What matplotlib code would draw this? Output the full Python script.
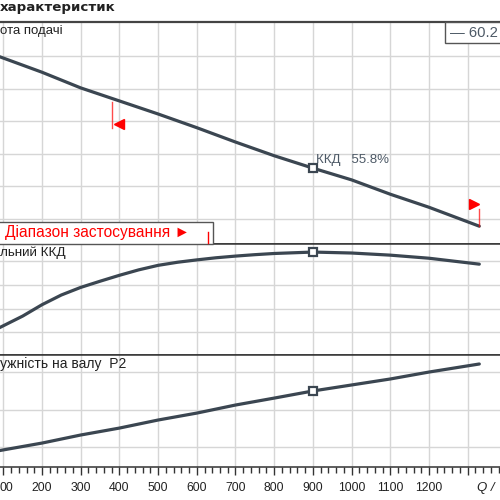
import matplotlib
matplotlib.use('Agg')
import matplotlib.pyplot as plt
from matplotlib.patches import Rectangle
from matplotlib.lines import Line2D
from matplotlib.ticker import MultipleLocator

# --- дані ---
Q_H = [85, 200, 300, 400, 500, 600, 700, 800, 900, 1000, 1100, 1200, 1330]
H = [30.0, 27.5, 25.1, 23.1, 21.1, 19.0, 16.8, 14.7, 12.8, 11.0, 8.8, 6.8, 3.9]

Q_ETA = [85, 150, 200, 250, 300, 350, 400, 450, 500, 550, 600, 650, 700, 750, 800,
         900, 1000, 1100, 1200, 1330]
ETA = [23.5, 28.8, 33.6, 37.7, 40.9, 43.5, 46.0, 48.3, 50.2, 51.5, 52.5, 53.4, 54.1, 54.7, 55.2,
       55.8, 55.4, 54.5, 53.2, 50.7]

Q_P = [85, 200, 300, 400, 500, 600, 700, 800, 900, 1000, 1100, 1200, 1330]
P2 = [17.9, 22.1, 26.4, 30.1, 34.4, 38.1, 42.4, 46.1, 49.9, 53.1, 56.3, 60.0, 64.3]

Q_BEP = 900
H_BEP = 12.8
ETA_BEP = 55.8
P_BEP = 49.9

Q_RANGE_MIN = 381
Q_RANGE_MAX = 1330

X_TICKS = list(range(100, 1400, 100))
X_LABELS = [""] + [str(v) for v in range(200, 1300, 100)] + [""]

CURVE = "#3b4651"
GRID = "#d6d6d6"
RED = "#ff0000"
TXT = "#4d5966"

plt.rcParams['font.family'] = ['Liberation Sans', 'DejaVu Sans']

W = 500.0  # розмір у пікселях


def fx(px):
    return px / W


def fy(px):
    return 1 - px / W


fig = plt.figure(figsize=(5, 5), dpi=100)
fig.patch.set_facecolor("white")

# вісь Q: 0..1400, 0.387 px на одиницю, Q=91.5 на лівому краю
x_left = (0 - 91.5) * 0.387
x_right = (1400 - 91.5) * 0.387
ax_w = (x_right - x_left) / W

ax_h = fig.add_axes([fx(x_left), fy(244), ax_w, (244 - 22) / W])
ax_e = fig.add_axes([fx(x_left), fy(355), ax_w, (355 - 244) / W])
ax_p = fig.add_axes([fx(x_left), fy(467), ax_w, (467 - 355) / W])

for ax in (ax_h, ax_e, ax_p):
    ax.set_xlim(0, 1400)
    ax.set_xticks(X_TICKS)
    ax.grid(True, color=GRID, linewidth=1.0)
    ax.set_axisbelow(True)
    ax.tick_params(axis='y', length=0, labelleft=False)
    for s in ("left", "right"):
        ax.spines[s].set_visible(False)
    ax.spines["top"].set_color("#333333")
    ax.spines["bottom"].set_color("#333333")
    ax.spines["top"].set_linewidth(1.1)
    ax.spines["bottom"].set_linewidth(1.1)

for ax in (ax_h, ax_e):
    ax.tick_params(axis='x', length=0, labelbottom=False)

ax_h.spines["top"].set_linewidth(1.6)
ax_h.spines["top"].set_color("#444444")

# напір
ax_h.set_ylim(1.17, 35.2)
ax_h.set_yticks([5, 10, 15, 20, 25, 30])
ax_h.plot(Q_H, H, color=CURVE, linewidth=2.3, solid_capstyle='round', solid_joinstyle='round', zorder=3)
ax_h.plot([Q_BEP], [H_BEP], marker='s', markersize=6, markerfacecolor='white',
          markeredgecolor=CURVE, markeredgewidth=1.6, zorder=4)
ax_h.text(Q_BEP + 8, 14.05, "ККД   55.8%", color=TXT, fontsize=9.5, va='center', ha='left')

# межі робочого діапазону
ax_h.plot([Q_RANGE_MIN, Q_RANGE_MIN], [22.9, 19.0], color=RED, linewidth=1.0, alpha=0.7, zorder=3)
ax_h.plot([Q_RANGE_MIN + 17], [19.6], marker='<', markersize=7, color=RED, linestyle='none', zorder=4)
ax_h.plot([Q_RANGE_MAX, Q_RANGE_MAX], [3.9, 6.5], color=RED, linewidth=1.0, alpha=0.7, zorder=3)
ax_h.plot([Q_RANGE_MAX - 14], [7.3], marker='>', markersize=7, color=RED, linestyle='none', zorder=4)

# ККД
ax_e.set_ylim(12.4, 59.2)
ax_e.set_yticks([22, 32, 42, 52])
ax_e.plot(Q_ETA, ETA, color=CURVE, linewidth=2.3, solid_capstyle='round', solid_joinstyle='round', zorder=3)
ax_e.plot([Q_BEP], [ETA_BEP], marker='s', markersize=6, markerfacecolor='white',
          markeredgecolor=CURVE, markeredgewidth=1.6, zorder=4)

# потужність
ax_p.set_ylim(9.33, 69.1)
ax_p.set_yticks([20, 40, 60])
ax_p.plot(Q_P, P2, color=CURVE, linewidth=2.3, solid_capstyle='round', solid_joinstyle='round', zorder=3)
ax_p.plot([Q_BEP], [P_BEP], marker='s', markersize=6, markerfacecolor='white',
          markeredgecolor=CURVE, markeredgewidth=1.6, zorder=4)

ax_p.set_xticklabels(X_LABELS)
ax_p.xaxis.set_minor_locator(MultipleLocator(20))
ax_p.tick_params(axis='x', which='major', direction='out', length=6, width=1.0,
                 color="#333333", labelsize=8.8, pad=5, labelcolor="#222222")
ax_p.tick_params(axis='x', which='minor', direction='out', length=4, width=1.0, color="#333333")

# підписи панелей (видимі частини обрізаного оригіналу)
fig.text(fx(0), fy(8), "характеристик", fontsize=9.6, fontweight='bold',
         family='DejaVu Sans', ha='left', va='center', color="#222222")
fig.text(fx(0), fy(31), "ота подачі", fontsize=9.5, ha='left', va='center', color="#222222")
fig.text(fx(0), fy(253), "льний ККД", fontsize=9.7, ha='left', va='center', color="#222222")
fig.text(fx(0), fy(364), "ужність на валу  P2", fontsize=10, ha='left', va='center', color="#222222")
fig.text(fx(0), fy(488), "00", fontsize=8.8, ha='left', va='center', color="#222222")
fig.text(fx(477), fy(488), "Q /", fontsize=9.5, style='italic', ha='left', va='center', color="#222222")

# рамка "Діапазон застосування"
fig.add_artist(Rectangle((fx(-3), fy(244)), fx(216), (244 - 222) / W, transform=fig.transFigure,
                         facecolor='white', edgecolor='#555555', linewidth=1.0, zorder=5))
fig.text(fx(5), fy(233), "Діапазон застосування ►", fontsize=11.2, color=RED,
         ha='left', va='center', zorder=6)
fig.add_artist(Line2D([fx(208), fx(208)], [fy(232), fy(243)], transform=fig.transFigure,
                      color=RED, linewidth=1.0, zorder=6))

# легенда праворуч угорі
fig.add_artist(Rectangle((fx(445), fy(43)), fx(70), (43 - 22) / W, transform=fig.transFigure,
                         facecolor='white', edgecolor='#555555', linewidth=1.0, zorder=5))
fig.text(fx(450), fy(33), "— 60.2", fontsize=10.6, color=TXT, ha='left', va='center', zorder=6)

fig.savefig("out.png", dpi=100, facecolor="white")
